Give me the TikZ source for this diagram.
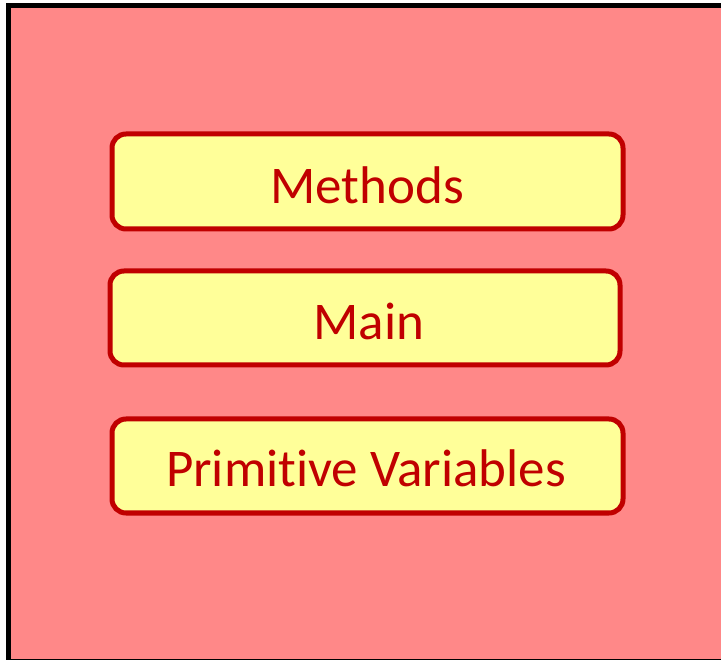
\documentclass[tikz,border=0pt]{standalone}
\usepackage{fontspec}
\setmainfont[Ligatures={NoCommon}]{Carlito}
\definecolor{bgpink}{HTML}{FF8888}
\definecolor{boxyellow}{HTML}{FFFF99}
\definecolor{boxred}{HTML}{C00000}
\begin{document}
\begin{tikzpicture}[x=1pt,y=-1pt,
  itembox/.style={draw=boxred,fill=boxyellow,line width=5pt,rounded corners=14pt},
  itemtext/.style={text=boxred,font=\fontsize{53}{58}\selectfont}]
\useasboundingbox (0,0) rectangle (721,660);
\draw[fill=bgpink,line width=5pt] (8,6) rectangle (730,661);
\draw[itembox] (112,134) rectangle (623,229);
\node[itemtext] (methods) at (367,185) {Methods};
\draw[itembox] (110,271) rectangle (620,365);
\node[itemtext] (main) at (369,321) {Main};
\draw[itembox] (112,419) rectangle (623,513);
\node[itemtext] (prim) at (366,468) {Primitive Variables};
\end{tikzpicture}
\end{document}
